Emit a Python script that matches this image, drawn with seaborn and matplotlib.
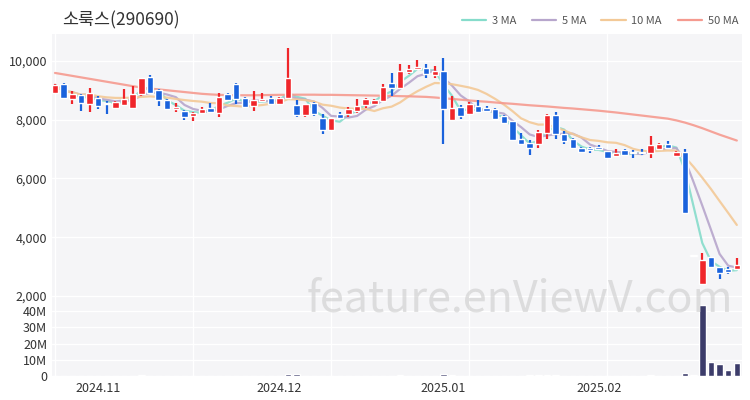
import numpy as np
import pandas as pd
import matplotlib
matplotlib.use("Agg")
import matplotlib.pyplot as plt
from matplotlib.lines import Line2D
import seaborn as sns

title = "소룩스(290690)"

opens = [8915, 9220, 8710, 8850, 8540, 8745, 8575, 8405, 8510, 8405,
         8880, 9460, 9015, 8680, 8370, 8300, 8135, 8235, 8400, 8235,
         8880, 9220, 8745, 8475, 8645, 8745, 8540, 8745, 8510, 8170,
         8575, 8065, 7660, 8200, 8200, 8300, 8510, 8540, 8645, 9255,
         9085, 9630, 9730, 9765, 9525, 9660, 8000, 8440, 8200, 8475,
         8405, 8370, 8135, 7965, 7355, 7220, 7185, 7560, 8170, 7525,
         7355, 7050, 7050, 7085, 6950, 6780, 6980, 6915, 6915, 6880,
         7015, 7185, 6780, 6915, 3370, 2400, 3320, 2980, 2910, 2910]
highs = [9220, 9250, 8980, 8880, 9085, 8810, 8640, 8640, 9050, 9150,
         9430, 9525, 9050, 8700, 8575, 8330, 8270, 8440, 8575, 8915,
         8915, 9250, 8780, 8980, 8915, 8810, 8780, 10440, 8680, 8540,
         8610, 8200, 8065, 8270, 8440, 8710, 8745, 8710, 9220, 9595,
         9900, 9865, 10030, 9900, 9830, 10100, 8810, 8510, 8610, 8680,
         8475, 8405, 8170, 7965, 7560, 7320, 7660, 8200, 8270, 7630,
         7390, 7080, 7080, 7150, 6950, 7015, 7015, 6980, 7015, 7460,
         7220, 7290, 6950, 6985, 3370, 3460, 3320, 2980, 2980, 3290]
lows = [8880, 8700, 8540, 8300, 8270, 8370, 8200, 8370, 8475, 8405,
        8810, 8880, 8475, 8340, 8270, 8000, 7965, 8200, 8235, 8100,
        8650, 8540, 8400, 8300, 8645, 8510, 8510, 8710, 8100, 8100,
        8135, 7525, 7660, 8030, 8100, 8235, 8405, 8510, 8610, 8815,
        9050, 9560, 9700, 9425, 9425, 7185, 7965, 8030, 8200, 8270,
        8270, 8000, 7900, 7320, 7150, 6810, 7050, 7355, 7355, 7185,
        7015, 6915, 6850, 6980, 6710, 6780, 6780, 6710, 6810, 6710,
        7015, 7015, 6780, 4815, 3370, 2400, 2980, 2575, 2740, 2910]
closes = [9185, 8745, 8880, 8575, 8915, 8475, 8540, 8610, 8710, 8880,
          9425, 8915, 8680, 8370, 8440, 8100, 8235, 8370, 8270, 8780,
          8680, 8710, 8440, 8680, 8710, 8540, 8745, 9425, 8170, 8540,
          8200, 7660, 8065, 8065, 8370, 8475, 8710, 8680, 9120, 9085,
          9660, 9730, 9800, 9560, 9660, 8370, 8405, 8135, 8540, 8270,
          8300, 8030, 7900, 7320, 7185, 7050, 7590, 8170, 7525, 7290,
          7050, 6915, 6980, 7015, 6710, 6880, 6810, 6880, 6850, 7150,
          7185, 7050, 6915, 4815, 3370, 3220, 2980, 2780, 2810, 3050]
volumes = [250e3, 300e3, 200e3, 220e3, 260e3, 200e3, 180e3, 150e3, 200e3, 240e3,
           350e3, 300e3, 220e3, 180e3, 150e3, 200e3, 160e3, 150e3, 140e3, 300e3,
           200e3, 250e3, 180e3, 200e3, 160e3, 150e3, 180e3, 1300e3, 1100e3, 300e3,
           220e3, 300e3, 250e3, 150e3, 160e3, 180e3, 200e3, 150e3, 300e3, 280e3,
           350e3, 250e3, 220e3, 200e3, 180e3, 1200e3, 500e3, 250e3, 220e3, 200e3,
           180e3, 200e3, 220e3, 300e3, 250e3, 550e3, 500e3, 600e3, 500e3, 300e3,
           250e3, 200e3, 180e3, 160e3, 200e3, 150e3, 160e3, 150e3, 150e3, 350e3,
           200e3, 180e3, 300e3, 1600e3, 500e3, 44000e3, 8800e3, 7400e3, 3700e3, 8200e3]
ma50 = [9590, 9540, 9490, 9440, 9390, 9340, 9290, 9240, 9190, 9140,
        9095, 9060, 9030, 9000, 8970, 8940, 8910, 8880, 8860, 8845,
        8835, 8830, 8830, 8830, 8835, 8840, 8845, 8845, 8850, 8850,
        8850, 8845, 8845, 8840, 8835, 8830, 8825, 8820, 8815, 8810,
        8800, 8795, 8785, 8775, 8755, 8730, 8705, 8680, 8655, 8630,
        8610, 8585, 8560, 8540, 8515, 8490, 8470, 8450, 8425, 8400,
        8380, 8355, 8330, 8305, 8275, 8245, 8210, 8175, 8140, 8105,
        8070, 8035, 7975, 7900, 7810, 7710, 7600, 7490, 7390, 7290]
month_labels = ["2024.11", "2024.12", "2025.01", "2025.02"]
month_idx = [5, 26, 45, 63]

df = pd.DataFrame({"o": opens, "h": highs, "l": lows, "c": closes, "v": volumes, "ma50": ma50})
df["i"] = np.arange(len(df))
df["ma3"] = df["c"].rolling(3, min_periods=1).mean()
df["ma5"] = df["c"].rolling(5, min_periods=1).mean()
df["ma10"] = df["c"].rolling(10, min_periods=1).mean()

sns.set_theme(style="white")
plt.rcParams["font.family"] = ["Noto Sans CJK KR", "DejaVu Sans"]

up, down = "#f0262b", "#1a62dc"
ma_colors = {"ma3": "#86dccb", "ma5": "#b7a6cc", "ma10": "#f3c997", "ma50": "#f59a8f"}
bg = "#f5f5f7"

fig = plt.figure(figsize=(7.5, 4), dpi=100)
ax = fig.add_axes([52 / 750, 1 - 300 / 400, 690 / 750, 266 / 400])
axv = fig.add_axes([52 / 750, 1 - 376 / 400, 690 / 750, 76 / 400], sharex=ax)

for a in (ax, axv):
    a.set_facecolor(bg)
    for s in a.spines.values():
        s.set_visible(False)
    a.tick_params(length=0, labelsize=9, labelcolor="#333333")
    for xv in range(0, 80, 16):
        a.axvline(xv, color="white", lw=1, zorder=0)

colors = [up if c > o else down for o, c in zip(df["o"], df["c"])]
ax.vlines(df["i"], df["l"], df["h"], colors=colors, lw=1.6, zorder=3)
body_low = np.minimum(df["o"], df["c"])
body_h = np.maximum(np.abs(df["c"] - df["o"]), 35)
ax.bar(df["i"], body_h, bottom=body_low, width=0.75, color=colors, zorder=3)

for key in ["ma3", "ma5", "ma10", "ma50"]:
    sns.lineplot(data=df, x="i", y=key, ax=ax, color=ma_colors[key], lw=1.6, alpha=0.9, zorder=2)

ax.set_ylim(1864, 10915)
ax.set_yticks([2000, 4000, 6000, 8000, 10000])
ax.set_yticklabels(["2,000", "4,000", "6,000", "8,000", "10,000"])
ax.grid(axis="y", color="white", lw=1)
ax.set_xlabel("")
ax.set_ylabel("")
ax.tick_params(axis="x", labelbottom=False)

axv.bar(df["i"], df["v"], width=0.75, color="#3c3c6a", zorder=3)
axv.set_ylim(0, 46.8e6)
axv.set_yticks([0, 10e6, 20e6, 30e6, 40e6])
axv.set_yticklabels(["0", "10M", "20M", "30M", "40M"])
axv.grid(axis="y", color="white", lw=1)
axv.set_xlim(-0.35, 79.6)
axv.set_xticks(month_idx)
axv.set_xticklabels(month_labels)
axv.tick_params(axis="x", pad=4)

fig.text(62 / 750, 1 - 20 / 400, title, fontsize=12.5, color="#333333", va="center", ha="left")

handles = [Line2D([0], [0], color=ma_colors[k], lw=1.6) for k in ["ma3", "ma5", "ma10", "ma50"]]
fig.legend(handles, ["3 MA", "5 MA", "10 MA", "50 MA"], loc="center right",
           bbox_to_anchor=(748 / 750, 1 - 21 / 400), ncol=4, frameon=False,
           fontsize=8, handlelength=2.2, handletextpad=0.5, columnspacing=1.4,
           labelcolor="#555555")

fig.text(520 / 750, 1 - 300 / 400, "feature.enViewV.com", fontsize=31, color="#c8c8c8",
         alpha=0.55, ha="center", va="center", zorder=10)

fig.savefig("out.png", dpi=100)
